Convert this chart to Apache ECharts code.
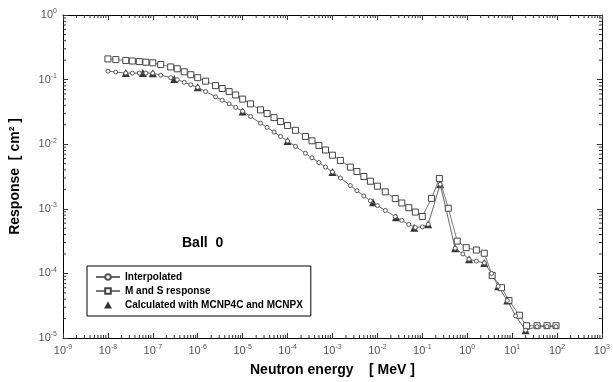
<!DOCTYPE html>
<html><head><meta charset="utf-8">
<script src="https://cdn.jsdelivr.net/npm/echarts@6/dist/echarts.min.js"></script>
<style>html,body{margin:0;padding:0;background:#fff}#c{width:613px;height:382px}</style>
</head><body><div id="c"></div>
<script>
// Energies (MeV) for M and S response
const msEnergy = [1e-8,1.5e-8,2.5e-8,3.5e-8,5e-8,7e-8,
 1e-7,1.5e-7,2.5e-7,3.5e-7,5e-7,7e-7,
 1e-6,1.5e-6,2.5e-6,3.5e-6,5e-6,7e-6,
 1e-5,1.5e-5,2.5e-5,3.5e-5,5e-5,7e-5,
 1e-4,1.5e-4,2.5e-4,3.5e-4,5e-4,7e-4,
 1e-3,1.5e-3,2.5e-3,3.5e-3,5e-3,7e-3,
 1e-2,1.5e-2,2.5e-2,3.5e-2,5e-2,7e-2,
 1e-1,0.16,0.24,0.38,0.6,0.95,1.6,2.4,3.6,5.8,8.5,14.5,21,36,60,95];
const msResponse = [0.209,0.204,0.198,0.194,0.190,0.186,
 0.182,0.171,0.157,0.147,0.132,0.119,
 0.107,0.0946,0.0807,0.0728,0.0652,0.0578,
 0.0499,0.0421,0.0340,0.0298,0.0258,0.0224,
 0.0195,0.0164,0.0132,0.0113,0.00957,0.00813,
 0.00676,0.00560,0.00442,0.00377,0.00316,0.00267,
 0.00224,0.00183,0.00144,0.00123,0.00104,0.00089,
 0.00076,0.00145,0.00295,0.00102,3.16e-4,2.5e-4,2.3e-4,2.05e-4,9.3e-5,6.0e-5,3.8e-5,2.25e-5,1.55e-5,1.55e-5,1.55e-5,1.55e-5];

// Interpolated
const interpEnergy = [1e-8,1.5e-8,2.5e-8,3.5e-8,5e-8,7e-8,
 1e-7,1.5e-7,2.5e-7,3.5e-7,5e-7,7e-7,
 1e-6,1.5e-6,2.5e-6,3.5e-6,5e-6,7e-6,
 1e-5,1.5e-5,2.5e-5,3.5e-5,5e-5,7e-5,
 1e-4,1.5e-4,2.5e-4,3.5e-4,5e-4,7e-4,
 1e-3,1.5e-3,2.5e-3,3.5e-3,5e-3,7e-3,
 1e-2,1.5e-2,2.5e-2,3.5e-2,5e-2,7e-2,
 1e-1,0.135,0.25,0.54,0.8,1.1,1.6,2.4,3.5,4.9,7.8,12,20,36,60,95];
const interpResponse = [0.135,0.131,0.126,0.126,0.126,0.126,
 0.126,0.117,0.107,0.0998,0.0908,0.0832,
 0.0759,0.0653,0.0541,0.0480,0.0421,0.0372,
 0.0324,0.0269,0.0212,0.0182,0.0154,0.0132,
 0.0112,0.00925,0.00723,0.00615,0.00520,0.00443,
 0.00372,0.00300,0.00229,0.00191,0.00158,0.00133,
 0.00112,0.000944,0.000757,0.000661,0.000573,0.000513,
 0.000525,0.000575,0.0024,2.45e-4,2.0e-4,1.66e-4,1.55e-4,1.45e-4,1.0e-4,6.3e-5,3.8e-5,2.2e-5,1.32e-5,1.5e-5,1.5e-5,1.5e-5];

// Calculated with MCNP4C and MCNPX
const calcEnergy = [2.5e-8,6e-8,1e-7,3e-7,1e-6,1e-5,1e-4,1e-3,8e-3,2.6e-2,6.6e-2,0.135,0.25,0.54,1.1,2.4,4.9,7.8,20];
const calcResponse = [0.126,0.126,0.125,0.102,0.076,0.032,0.0112,0.0037,0.00126,7.4e-4,5.1e-4,5.75e-4,2.4e-3,2.45e-4,1.66e-4,1.45e-4,6.3e-5,3.8e-5,1.32e-5];

const xMin = 1e-9, xMax = 1e3, yMin = 1e-5, yMax = 1;

const zip = (a, b) => a.map((v, i) => [v, b[i]]);

// minor tick positions (2..9 x 10^n)
const xMinor = [];
for (let d = -9; d < 3; d++) for (let k = 2; k <= 9; k++) xMinor.push(k * Math.pow(10, d));
const yMinor = [];
for (let d = -5; d < 0; d++) for (let k = 2; k <= 9; k++) yMinor.push(k * Math.pow(10, d));

const supFmt = v => {
  const e = Math.round(Math.log10(v));
  return '{b|10}{s|' + e + '}';
};
const rich = {
  b: {fontSize: 11, color: '#555', fontFamily: 'Liberation Sans'},
  s: {fontSize: 7, color: '#555', fontFamily: 'Liberation Sans', verticalAlign: 'top', padding: [0,0,7,0]}
};

const chart = echarts.init(document.getElementById('c'), null, {renderer: 'canvas'});
const baseAxis = {
  type: 'log', logBase: 10,
  axisLine: {show: true, lineStyle: {color: '#000', width: 1}},
  axisTick: {show: true, inside: true, length: 5, lineStyle: {color: '#333'}},
  splitLine: {show: false},
  minorTick: {show: false}
};
chart.setOption({
  animation: false,
  grid: {left: 63, right: 10, top: 15, bottom: 44, containLabel: false},
  xAxis: [
    Object.assign({}, baseAxis, {min: xMin, max: xMax, interval: 1, position: 'bottom',
      name: 'Neutron energy    [ MeV ]', nameLocation: 'middle', nameGap: 25,
      nameTextStyle: {fontSize: 14, fontWeight: 'bold', fontFamily: 'Liberation Sans', color: '#000'},
      axisLabel: {formatter: supFmt, rich: rich, margin: 6, interval: 0}}),
    Object.assign({}, baseAxis, {min: xMin, max: xMax, interval: 1, position: 'top',
      axisLabel: {show: false}})
  ],
  yAxis: [
    Object.assign({}, baseAxis, {min: yMin, max: yMax, interval: 1, position: 'left',
      name: 'Response  [ cm² ]', nameLocation: 'middle', nameGap: 41,
      nameTextStyle: {fontSize: 14, fontWeight: 'bold', fontFamily: 'Liberation Sans', color: '#000'},
      axisLabel: {formatter: supFmt, rich: rich, margin: 6}}),
    Object.assign({}, baseAxis, {min: yMin, max: yMax, interval: 1, position: 'right',
      axisLabel: {show: false}})
  ],
  legend: {
    orient: 'vertical', left: 87, top: 266,
    data: [
      {name: 'Interpolated'},
      {name: 'M and S response'},
      {name: 'Calculated with MCNP4C and MCNPX', icon: 'path://M4,0L8,7L0,7Z'}
    ],
    symbolKeepAspect: true,
    borderColor: '#000', borderWidth: 1, padding: [6, 8, 6, 8],
    itemGap: 4, itemWidth: 24, itemHeight: 7,
    textStyle: {fontSize: 10, fontWeight: 'bold', fontFamily: 'Liberation Sans', color: '#000'}
  },
  graphic: [{
    type: 'text', left: 182, top: 236,
    style: {text: 'Ball  0', font: 'bold 14px "Liberation Sans"', fill: '#000'}
  }],
  series: [
    {
      name: 'minorX', type: 'custom', xAxisIndex: 0, yAxisIndex: 0, silent: true,
      data: xMinor.map(v => [v]), encode: {x: 0},
      renderItem: (params, api) => {
        const x = api.value(0);
        const pb = api.coord([x, yMin]);
        const pt = api.coord([x, yMax]);
        return {type: 'group', children: [
          {type: 'line', shape: {x1: pb[0], y1: pb[1], x2: pb[0], y2: pb[1] - 3}, style: {stroke: '#333', lineWidth: 1}},
          {type: 'line', shape: {x1: pt[0], y1: pt[1], x2: pt[0], y2: pt[1] + 3}, style: {stroke: '#333', lineWidth: 1}}
        ]};
      }
    },
    {
      name: 'minorY', type: 'custom', xAxisIndex: 0, yAxisIndex: 0, silent: true,
      data: yMinor.map(v => [xMin, v]), encode: {y: 1},
      renderItem: (params, api) => {
        const y = api.value(1);
        const pl = api.coord([xMin, y]);
        const pr = api.coord([xMax, y]);
        return {type: 'group', children: [
          {type: 'line', shape: {x1: pl[0], y1: pl[1], x2: pl[0] + 3, y2: pl[1]}, style: {stroke: '#333', lineWidth: 1}},
          {type: 'line', shape: {x1: pr[0], y1: pr[1], x2: pr[0] - 3, y2: pr[1]}, style: {stroke: '#333', lineWidth: 1}}
        ]};
      }
    },
    {
      name: 'M and S response', type: 'line', data: zip(msEnergy, msResponse),
      symbol: 'rect', symbolSize: 6, showAllSymbol: true,
      lineStyle: {color: '#777', width: 1},
      itemStyle: {color: '#fff', borderColor: '#444', borderWidth: 1}
    },
    {
      name: 'Interpolated', type: 'line', data: zip(interpEnergy, interpResponse),
      symbol: 'circle', symbolSize: 4, showAllSymbol: true,
      lineStyle: {color: '#666', width: 1},
      itemStyle: {color: '#fff', borderColor: '#555', borderWidth: 1}
    },
    {
      name: 'Calculated with MCNP4C and MCNPX', type: 'scatter', data: zip(calcEnergy, calcResponse),
      symbol: 'triangle', symbolSize: 8,
      itemStyle: {color: '#000'}
    }
  ]
});
</script></body></html>
